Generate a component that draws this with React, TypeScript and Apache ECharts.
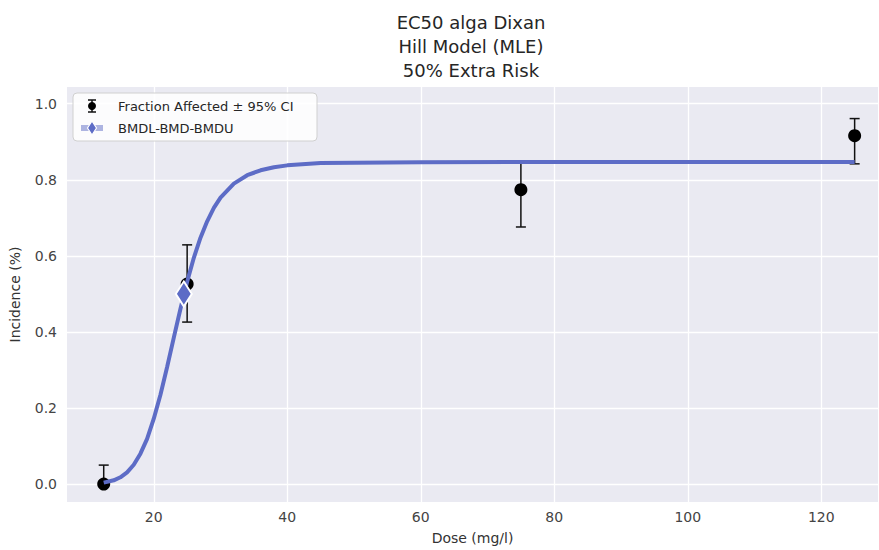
import React, { useEffect, useRef } from "react";
import * as echarts from "echarts";

// Observed data (fraction affected with 95% CI)
const doses = [12.5, 25, 75, 125];
const fraction = [0.0, 0.526, 0.774, 0.916];
const ciLower = [0.0, 0.426, 0.676, 0.842];
const ciUpper = [0.05, 0.629, 0.847, 0.961];

// Fitted Hill model curve
const curveX = [12.5, 14, 15, 16, 17, 18, 19, 20, 21, 22, 23, 24, 25, 26, 27, 28, 29, 30, 32, 34, 36, 38, 40, 45, 50, 60, 80, 100, 125];
const curveY = [0.004, 0.010, 0.018, 0.031, 0.051, 0.080, 0.119, 0.172, 0.235, 0.308, 0.385, 0.461, 0.532, 0.595, 0.648, 0.691, 0.726, 0.753, 0.790, 0.812, 0.825, 0.833, 0.838, 0.844, 0.845, 0.846, 0.847, 0.847, 0.847];

// BMDL-BMD-BMDU
const bmd = [24.5];
const bmdY = [0.5];
const bmdl = [23.8];
const bmdu = [25.2];

const xTicks = [20, 40, 60, 80, 100, 120];
const yTicks = [0.0, 0.2, 0.4, 0.6, 0.8, 1.0];

const FONT = "DejaVu Sans";
const LINE_COLOR = "#5d6cc6";

export default function App() {
  const ref = useRef<HTMLDivElement>(null);
  useEffect(() => {
    if (!ref.current) return;
    const chart = echarts.init(ref.current, null, { renderer: "svg" });
    const diamond = "path://M0,-1L0.62,0L0,1L-0.62,0Z";
    chart.setOption({
      animation: false,
      backgroundColor: "#ffffff",
      textStyle: { fontFamily: FONT },
      grid: { left: 65, right: 1, top: 87, bottom: 45, show: true, backgroundColor: "#eaeaf2", borderWidth: 0 },
      xAxis: {
        type: "value",
        min: 7.0,
        max: 128.5,
        name: "Dose (mg/l)",
        nameLocation: "middle",
        nameGap: 29,
        nameTextStyle: { fontSize: 14, color: "#333", fontFamily: FONT },
        axisLine: { show: false },
        axisTick: { show: false, customValues: xTicks },
        axisLabel: { customValues: xTicks, fontSize: 14, color: "#444", fontFamily: FONT, margin: 8 },
        splitLine: { show: true, lineStyle: { color: "#ffffff", width: 1.3 } },
      },
      yAxis: {
        type: "value",
        min: -0.047,
        max: 1.044,
        name: "Incidence (%)",
        nameLocation: "middle",
        nameGap: 45,
        nameTextStyle: { fontSize: 14, color: "#333", fontFamily: FONT },
        axisLine: { show: false },
        axisTick: { show: false, customValues: yTicks },
        axisLabel: {
          customValues: yTicks,
          fontSize: 14,
          color: "#444",
          fontFamily: FONT,
          margin: 10,
          formatter: (v: number) => v.toFixed(1),
        },
        splitLine: { show: true, lineStyle: { color: "#ffffff", width: 1.3 } },
      },
      series: [
        {
          type: "custom",
          name: "err",
          z: 2,
          data: doses.map((d, i) => [d, ciLower[i], ciUpper[i]]),
          renderItem: (params: any, api: any) => {
            const x = api.value(0);
            const lo = api.coord([x, api.value(1)]);
            const hi = api.coord([x, api.value(2)]);
            const w = 5;
            const st = { stroke: "#111", lineWidth: 1.5 };
            return {
              type: "group",
              children: [
                { type: "line", shape: { x1: lo[0], y1: lo[1], x2: hi[0], y2: hi[1] }, style: st },
                { type: "line", shape: { x1: lo[0] - w, y1: lo[1], x2: lo[0] + w, y2: lo[1] }, style: st },
                { type: "line", shape: { x1: hi[0] - w, y1: hi[1], x2: hi[0] + w, y2: hi[1] }, style: st },
              ],
            };
          },
        },
        {
          type: "scatter",
          name: "Fraction Affected",
          z: 3,
          symbol: "circle",
          symbolSize: 13,
          itemStyle: { color: "#000", opacity: 1 },
          data: doses.map((d, i) => [d, fraction[i]]),
        },
        {
          type: "line",
          name: "Hill",
          z: 4,
          showSymbol: false,
          symbol: "none",
          lineStyle: { color: LINE_COLOR, width: 4 },
          data: curveX.map((x, i) => [x, curveY[i]]),
        },
        {
          type: "custom",
          name: "bmdbar",
          z: 5,
          data: bmd.map((b, i) => [bmdl[i], bmdu[i], bmdY[i]]),
          renderItem: (params: any, api: any) => {
            const a = api.coord([api.value(0), api.value(2)]);
            const b = api.coord([api.value(1), api.value(2)]);
            return {
              type: "line",
              shape: { x1: a[0], y1: a[1], x2: b[0], y2: b[1] },
              style: { stroke: "rgba(93,108,198,0.45)", lineWidth: 6 },
            };
          },
        },
        {
          type: "scatter",
          name: "BMD",
          z: 6,
          symbol: diamond,
          symbolSize: [16, 25],
          itemStyle: { color: LINE_COLOR, borderColor: "#ffffff", borderWidth: 2, opacity: 1 },
          data: bmd.map((b, i) => [b, bmdY[i]]),
        },
      ],
      graphic: [
        {
          type: "text",
          z: 100,
          x: 471,
          y: 10,
          style: {
            text: "EC50 alga Dixan\nHill Model (MLE)\n50% Extra Risk",
            fontSize: 18,
            lineHeight: 24,
            fontFamily: FONT,
            fill: "#262626",
            align: "center",
            verticalAlign: "top",
          },
        },
        {
          type: "group",
          z: 100,
          x: 73,
          y: 93,
          children: [
            {
              type: "rect",
              z: 100,
              shape: { x: 0, y: 0, width: 244, height: 48, r: 4 },
              style: { fill: "rgba(255,255,255,0.85)", stroke: "#d0d0d0", lineWidth: 1 },
            },
            { type: "line", z: 101, shape: { x1: 19, y1: 7, x2: 19, y2: 19 }, style: { stroke: "#111", lineWidth: 1.5 } },
            { type: "line", z: 101, shape: { x1: 15, y1: 7, x2: 23, y2: 7 }, style: { stroke: "#111", lineWidth: 1.5 } },
            { type: "line", z: 101, shape: { x1: 15, y1: 19, x2: 23, y2: 19 }, style: { stroke: "#111", lineWidth: 1.5 } },
            { type: "circle", z: 101, shape: { cx: 19, cy: 13, r: 4 }, style: { fill: "#000" } },
            {
              type: "text",
              z: 101,
              x: 45,
              y: 13,
              style: { text: "Fraction Affected ± 95% CI", fontSize: 13, fontFamily: FONT, fill: "#262626", verticalAlign: "middle" },
            },
            { type: "line", z: 101, shape: { x1: 8, y1: 35, x2: 30, y2: 35 }, style: { stroke: "rgba(93,108,198,0.5)", lineWidth: 6 } },
            {
              type: "polygon",
              z: 102,
              shape: { points: [[19, 28], [23.5, 35], [19, 42], [14.5, 35]] },
              style: { fill: LINE_COLOR, stroke: "#ffffff", lineWidth: 1.2 },
            },
            {
              type: "text",
              z: 101,
              x: 45,
              y: 35,
              style: { text: "BMDL-BMD-BMDU", fontSize: 13, fontFamily: FONT, fill: "#262626", verticalAlign: "middle" },
            },
          ],
        },
      ],
    });
    return () => chart.dispose();
  }, []);
  return <div ref={ref} style={{ position: "fixed", left: 0, top: 0, width: 879, height: 550 }} />;
}
